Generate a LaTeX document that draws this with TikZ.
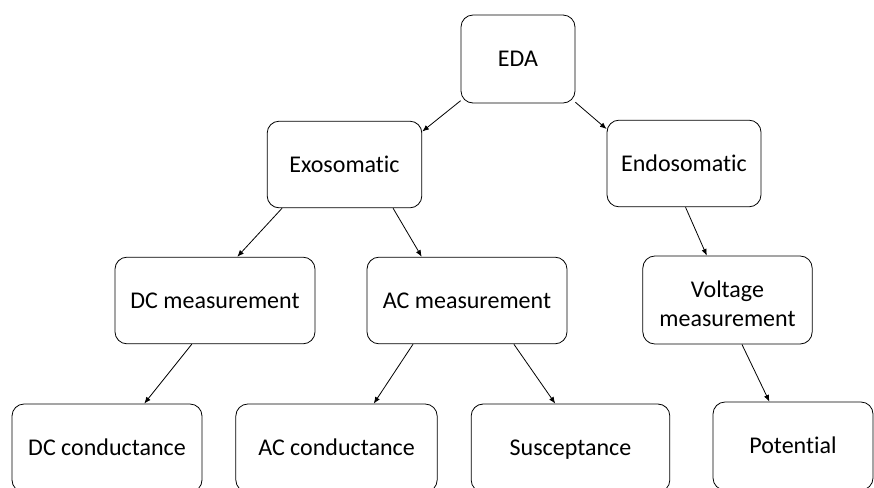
\documentclass[tikz,border=0pt]{standalone}
\usepackage{fontspec}
\setmainfont[Ligatures=NoCommon]{Carlito}
\usepackage{tikz}
\usetikzlibrary{calc,arrows.meta}

\newcommand{\boxstrut}{\rule[-4pt]{0pt}{19.6pt}}

\begin{document}
\begin{tikzpicture}[x=0.75pt,y=-0.75pt,
    box/.style={draw,rounded corners=9pt,line width=0.6pt,align=center,
      font=\fontsize{18}{22}\selectfont,inner sep=0pt,
      execute at begin node=\boxstrut},
    link/.style={-{Latex[length=5pt,width=4pt]},line width=0.6pt}]
  \useasboundingbox (0,0) rectangle (874,487);

  %% Boxes of the tree
  \node[box,minimum width=85.5pt,minimum height=66pt]  (EDA)  at (518,59)    {EDA};
  \node[box,minimum width=116pt,minimum height=65pt]   (EXO)  at (344.5,164.5) {Exosomatic};
  \node[box,minimum width=115.5pt,minimum height=65pt] (ENDO) at (684,163.5) {Endosomatic};
  \node[box,minimum width=150pt,minimum height=65pt]   (DCM)  at (215,300.5) {DC measurement};
  \node[box,minimum width=150pt,minimum height=65pt]   (ACM)  at (467,300.5) {AC measurement};
  \node[box,minimum width=127pt,minimum height=66pt]   (VM)   at (727.5,300) {\rule{0pt}{21.6pt}Voltage\\measurement};
  \node[box,minimum width=142.5pt,minimum height=66pt] (DCC)  at (107,448)   {DC conductance};
  \node[box,minimum width=151pt,minimum height=66pt]   (ACC)  at (336.5,448) {AC conductance};
  \node[box,minimum width=149pt,minimum height=66pt]   (SUS)  at (570.5,448) {Susceptance};
  \node[box,minimum width=120pt,minimum height=66pt]   (POT)  at (793,446)   {Potential};

  %% Arrows between levels
  \draw[link] (EDA.216) -- (EXO.23);
  \draw[link] (EDA.-37) -- (ENDO.156);
  \draw[link] (EXO.215) -- (DCM.63);
  \draw[link] (EXO.-42) -- (ACM.136);
  \draw[link] (ENDO.-88) -- (VM.115);
  \draw[link] (DCM.242) -- (DCC.50);
  \draw[link] (ACM.219) -- (ACC.50);
  \draw[link] (ACM.-43) -- (SUS.109);
  \draw[link] (VM.-72) -- (POT.118);
\end{tikzpicture}
\end{document}
